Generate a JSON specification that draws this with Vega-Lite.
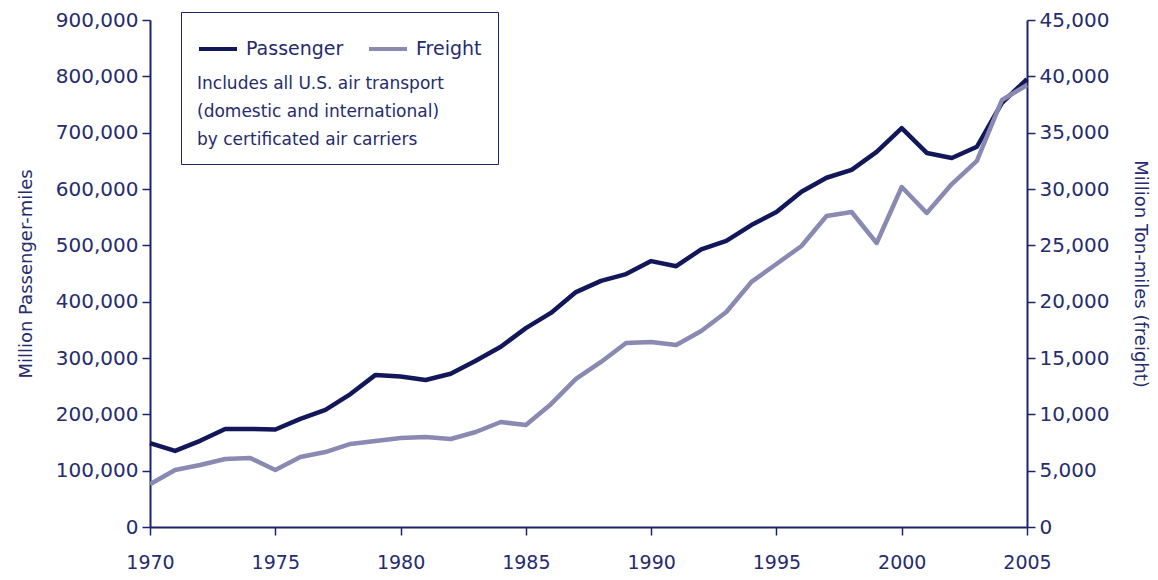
{
  "$schema": "https://vega.github.io/schema/vega-lite/v6.json",
  "width": 877,
  "height": 507,
  "autosize": {"type": "none"},
  "padding": {"left": 150, "top": 20, "right": 131, "bottom": 53},
  "background": "white",
  "config": {
    "view": {"stroke": null},
    "font": "DejaVu Sans",
    "axis": {
      "domainColor": "#1d2366",
      "domainWidth": 2,
      "tickColor": "#1d2366",
      "tickWidth": 1.5,
      "tickSize": 8,
      "labelColor": "#262b6c",
      "labelFont": "DejaVu Sans",
      "labelFontSize": 20,
      "titleColor": "#262b6c",
      "titleFont": "DejaVu Sans",
      "titleFontSize": 18,
      "titleFontWeight": "normal",
      "grid": false
    }
  },
  "data": {
    "values": [
      {"year": 1970, "passenger": 149000, "freight": 3800},
      {"year": 1971, "passenger": 135000, "freight": 5060},
      {"year": 1972, "passenger": 153000, "freight": 5500},
      {"year": 1973, "passenger": 174000, "freight": 6040},
      {"year": 1974, "passenger": 174000, "freight": 6130},
      {"year": 1975, "passenger": 173000, "freight": 5060},
      {"year": 1976, "passenger": 192000, "freight": 6210},
      {"year": 1977, "passenger": 208000, "freight": 6650},
      {"year": 1978, "passenger": 236000, "freight": 7370},
      {"year": 1979, "passenger": 270000, "freight": 7630},
      {"year": 1980, "passenger": 267000, "freight": 7900},
      {"year": 1981, "passenger": 261000, "freight": 7990},
      {"year": 1982, "passenger": 272000, "freight": 7810},
      {"year": 1983, "passenger": 295000, "freight": 8430},
      {"year": 1984, "passenger": 320000, "freight": 9320},
      {"year": 1985, "passenger": 353000, "freight": 9050},
      {"year": 1986, "passenger": 380000, "freight": 10900},
      {"year": 1987, "passenger": 417000, "freight": 13140},
      {"year": 1988, "passenger": 437000, "freight": 14650},
      {"year": 1989, "passenger": 449000, "freight": 16330},
      {"year": 1990, "passenger": 472000, "freight": 16420},
      {"year": 1991, "passenger": 463000, "freight": 16150},
      {"year": 1992, "passenger": 493000, "freight": 17400},
      {"year": 1993, "passenger": 508000, "freight": 19080},
      {"year": 1994, "passenger": 536000, "freight": 21750},
      {"year": 1995, "passenger": 559000, "freight": 23340},
      {"year": 1996, "passenger": 595000, "freight": 24940},
      {"year": 1997, "passenger": 620000, "freight": 27600},
      {"year": 1998, "passenger": 634000, "freight": 27960},
      {"year": 1999, "passenger": 666000, "freight": 25210},
      {"year": 2000, "passenger": 708000, "freight": 30180},
      {"year": 2001, "passenger": 664000, "freight": 27870},
      {"year": 2002, "passenger": 655000, "freight": 30440},
      {"year": 2003, "passenger": 675000, "freight": 32490},
      {"year": 2004, "passenger": 753000, "freight": 37900},
      {"year": 2005, "passenger": 795000, "freight": 39230}
    ]
  },
  "encoding": {
    "x": {
      "field": "year",
      "type": "quantitative",
      "scale": {"domain": [1970, 2005], "nice": false, "zero": false},
      "axis": {"values": [1970, 1975, 1980, 1985, 1990, 1995, 2000, 2005], "format": "d", "title": null, "labelPadding": 18, "labelFontSize": 19, "labelFlush": false}
    }
  },
  "layer": [
    {
      "mark": {"type": "line", "strokeWidth": 4.5, "strokeJoin": "round"},
      "encoding": {
        "y": {
          "field": "passenger",
          "type": "quantitative",
          "scale": {"domain": [0, 900000], "nice": false},
          "axis": {"orient": "left", "values": [0, 100000, 200000, 300000, 400000, 500000, 600000, 700000, 800000, 900000], "format": ",d", "title": "Million Passenger-miles", "titlePadding": 20, "labelPadding": 4, "labelFlush": false}
        },
        "color": {
          "datum": "Passenger",
          "type": "nominal",
          "scale": {"domain": ["Passenger", "Freight"], "range": ["#12175a", "#8a89b2"]},
          "legend": {
            "orient": "none",
            "legendX": 31,
            "legendY": -8,
            "direction": "horizontal",
            "title": ["Includes all U.S. air transport", "(domestic and international)", "by certificated air carriers"],
            "titleOrient": "bottom",
            "titleFontWeight": "normal",
            "titleFontSize": 17,
            "titleLimit": 500,
            "titleColor": "#262b6c",
            "titleLineHeight": 28,
            "titlePadding": 17,
            "labelFontSize": 19,
            "labelColor": "#262b6c",
            "symbolType": "stroke",
            "symbolSize": 1444,
            "symbolStrokeWidth": 4,
            "columnPadding": 17,
            "labelOffset": 7,
            "strokeColor": "#1d2366",
            "padding": 16
          }
        }
      }
    },
    {
      "mark": {"type": "line", "strokeWidth": 4.5, "strokeJoin": "round"},
      "encoding": {
        "y": {
          "field": "freight",
          "type": "quantitative",
          "scale": {"domain": [0, 45000], "nice": false},
          "axis": {"orient": "right", "values": [0, 5000, 10000, 15000, 20000, 25000, 30000, 35000, 40000, 45000], "format": ",d", "title": "Million Ton-miles (freight)", "titlePadding": 22, "labelPadding": 4, "labelFlush": false}
        },
        "color": {"datum": "Freight", "type": "nominal"}
      }
    }
  ],
  "resolve": {"scale": {"y": "independent"}}
}
